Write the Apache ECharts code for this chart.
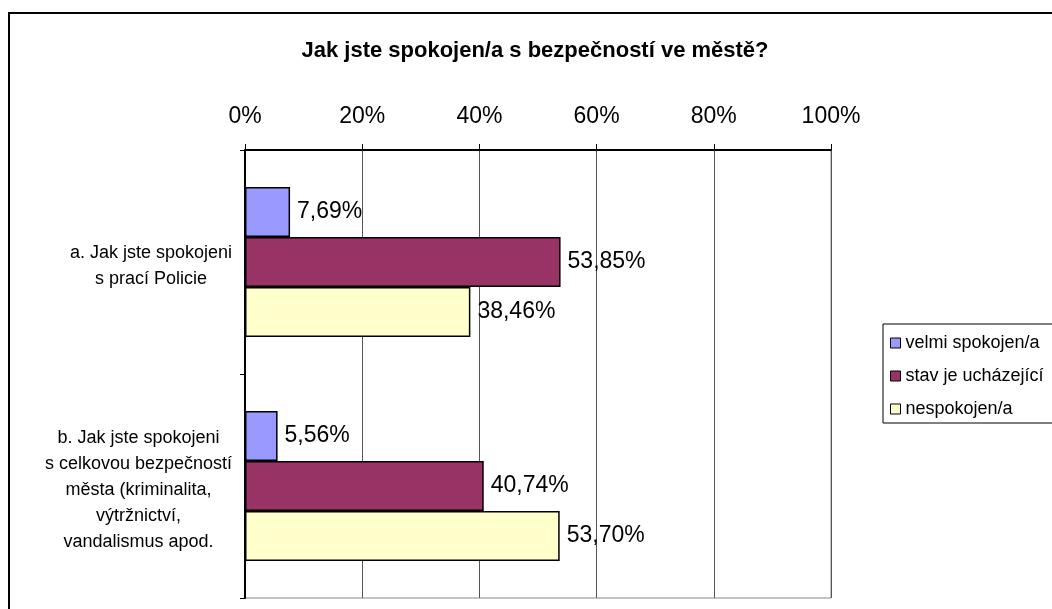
<!DOCTYPE html>
<html>
<head>
<meta charset="utf-8">
<script src="https://cdn.jsdelivr.net/npm/echarts@6/dist/echarts.min.js"></script>
<style>
  html, body { margin: 0; padding: 0; background: #fff; }
  #main { width: 1052px; height: 609px; }
</style>
</head>
<body>
<div id="main"></div>
<script>
var categories = [
    'a. Jak jste spokojeni\ns prací Policie',
    'b. Jak jste spokojeni\ns celkovou bezpečností\nměsta (kriminalita,\nvýtržnictví,\nvandalismus apod.'
];
var seriesNames = ['velmi spokojen/a', 'stav je ucházející', 'nespokojen/a'];
var velmiSpokojen = [7.69, 5.56];
var stavUchazejici = [53.85, 40.74];
var nespokojen = [38.46, 53.70];
var colors = ['#9999FF', '#993366', '#FFFFCC'];

var font = 'Liberation Sans, Arial, sans-serif';

function makeSeries(name, data, color) {
    return {
        name: name,
        type: 'bar',
        data: data,
        barWidth: 50,
        barGap: '0%',
        itemStyle: { color: color, borderColor: '#000', borderWidth: 1.5 },
        label: {
            show: true,
            position: 'right',
            distance: 7,
            color: '#000',
            fontFamily: font,
            fontSize: 23,
            formatter: function (p) {
                return p.value.toFixed(2).replace('.', ',') + '%';
            }
        }
    };
}

var myChart = echarts.init(document.getElementById('main'));

var option = {
    backgroundColor: '#fff',
    animation: false,
    title: {
        text: 'Jak jste spokojen/a s bezpečností ve městě?',
        left: 530,
        top: 35,
        textAlign: 'center',
        textStyle: { fontFamily: font, fontSize: 22, fontWeight: 'bold', color: '#000' }
    },
    graphic: [{
        type: 'rect',
        shape: { x: 9, y: 13, width: 1100, height: 700 },
        style: { fill: 'none', stroke: '#000', lineWidth: 2 },
        silent: true
    }],
    legend: {
        data: seriesNames,
        orient: 'vertical',
        left: 883,
        top: 324,
        itemWidth: 10,
        itemHeight: 10,
        itemGap: 15,
        padding: [10, 30, 5, 7],
        borderColor: '#000',
        borderWidth: 1,
        icon: 'rect',
        itemStyle: { borderColor: '#000', borderWidth: 1 },
        textStyle: { fontFamily: font, fontSize: 18, color: '#000' }
    },
    grid: {
        left: 245,
        right: 221,
        top: 150,
        bottom: 11,
        show: true,
        borderColor: '#888',
        borderWidth: 1
    },
    xAxis: {
        type: 'value',
        position: 'top',
        min: 0,
        max: 100,
        interval: 20,
        axisLine: { show: true, lineStyle: { color: '#000', width: 2 } },
        axisTick: { show: true, length: 6, lineStyle: { color: '#000' } },
        axisLabel: {
            formatter: '{value}%',
            margin: 22,
            fontFamily: font,
            fontSize: 23,
            color: '#000'
        },
        splitLine: { show: true, lineStyle: { color: '#555', width: 1 } }
    },
    yAxis: {
        type: 'category',
        data: categories,
        inverse: true,
        axisLine: { show: true, lineStyle: { color: '#000', width: 2 } },
        axisTick: { show: true, length: 5, lineStyle: { color: '#000' } },
        axisLabel: {
            margin: 13,
            align: 'right',
            padding: [8, 0, 0, 0],
            formatter: function (v) {
                return v.split('\n').map(function (l) { return '{c|' + l + '}'; }).join('\n');
            },
            rich: {
                c: { align: 'center', fontFamily: font, fontSize: 18, lineHeight: 26, color: '#000' }
            }
        }
    },
    series: [
        makeSeries(seriesNames[0], velmiSpokojen, colors[0]),
        makeSeries(seriesNames[1], stavUchazejici, colors[1]),
        makeSeries(seriesNames[2], nespokojen, colors[2])
    ]
};

myChart.setOption(option);
</script>
</body>
</html>
